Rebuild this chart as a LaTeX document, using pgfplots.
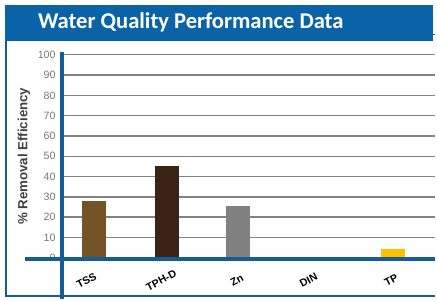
\documentclass[border=0pt]{standalone}
\usepackage{pgfplots}
\pgfplotsset{compat=1.18}
\usepackage{fontspec}
\setmainfont{Liberation Sans}
\newfontfamily\carlito{Carlito}
\definecolor{banner}{RGB}{10,99,166}
\definecolor{axisblue}{RGB}{22,92,152}
\definecolor{gridgray}{RGB}{130,130,130}
\definecolor{ticktext}{RGB}{118,118,118}
\definecolor{labeltext}{RGB}{64,64,64}
\definecolor{tss}{RGB}{116,84,38}
\definecolor{tph}{RGB}{60,36,21}
\definecolor{zn}{RGB}{128,128,128}
\definecolor{tp}{RGB}{255,192,0}
\begin{document}
\begin{tikzpicture}
\begin{scope}[x=0.75pt,y=-0.75pt]
\useasboundingbox (0,0) rectangle (437,300);
\fill[banner] (5,5) rectangle (434.5,41);
\node[anchor=base west,inner sep=0pt,text=white,font=\carlito\bfseries\fontsize{17}{20}\selectfont] at (38,28.5) {Water Quality Performance Data};
\draw[axisblue,line width=1.2pt] (6,41) -- (6,297.5) -- (437,297.5);
\draw[axisblue,line width=0.8pt] (434.5,34.5) -- (437,34.5);
\end{scope}
\begin{axis}[
  at={(46.5pt,-194.25pt)}, anchor=south west,
  scale only axis, width=281.25pt, height=153pt,
  xmin=62, xmax=437, ymin=0, ymax=100,
  clip=false,
  axis line style={draw=none},
  axis lines*=left,
  major tick length=0pt,
  ytick={0,10,...,100},
  ymajorgrids,
  grid style={gridgray,line width=1.1pt},
  xtick={87,162,238,310,393},
  xticklabels={TSS,TPH-D,Zn,DIN,TP},
  /pgf/number format/assume math mode=true,
  yticklabel style={anchor=east,inner sep=0pt,xshift=-4.5pt,text=ticktext,font=\fontsize{8}{9}\selectfont},
  xticklabel style={yshift=-17pt,rotate=28,anchor=center,inner sep=0pt,font=\bfseries\fontsize{8}{9}\selectfont},
  ylabel={\% Removal Efficiency},
  ylabel style={at={(axis description cs:-0.101,0.5)},anchor=center,rotate=0,font=\bfseries\fontsize{10}{12}\selectfont,text=labeltext},
  ybar, bar width=18pt, bar shift=0pt,
]
\addplot[fill=tss,draw=none] coordinates {(94.7,28)};
\addplot[fill=tph,draw=none] coordinates {(168,45)};
\addplot[fill=zn,draw=none] coordinates {(239,25.5)};
\addplot[fill=tp,draw=none] coordinates {(394.7,4.5)};
\draw[axisblue,line width=3pt] (axis cs:25,-0.5) -- (axis cs:437,-0.5);
\draw[axisblue,line width=3pt] (axis cs:62,101.5) -- (axis cs:62,-20.1);
\end{axis}
\end{tikzpicture}
\end{document}
